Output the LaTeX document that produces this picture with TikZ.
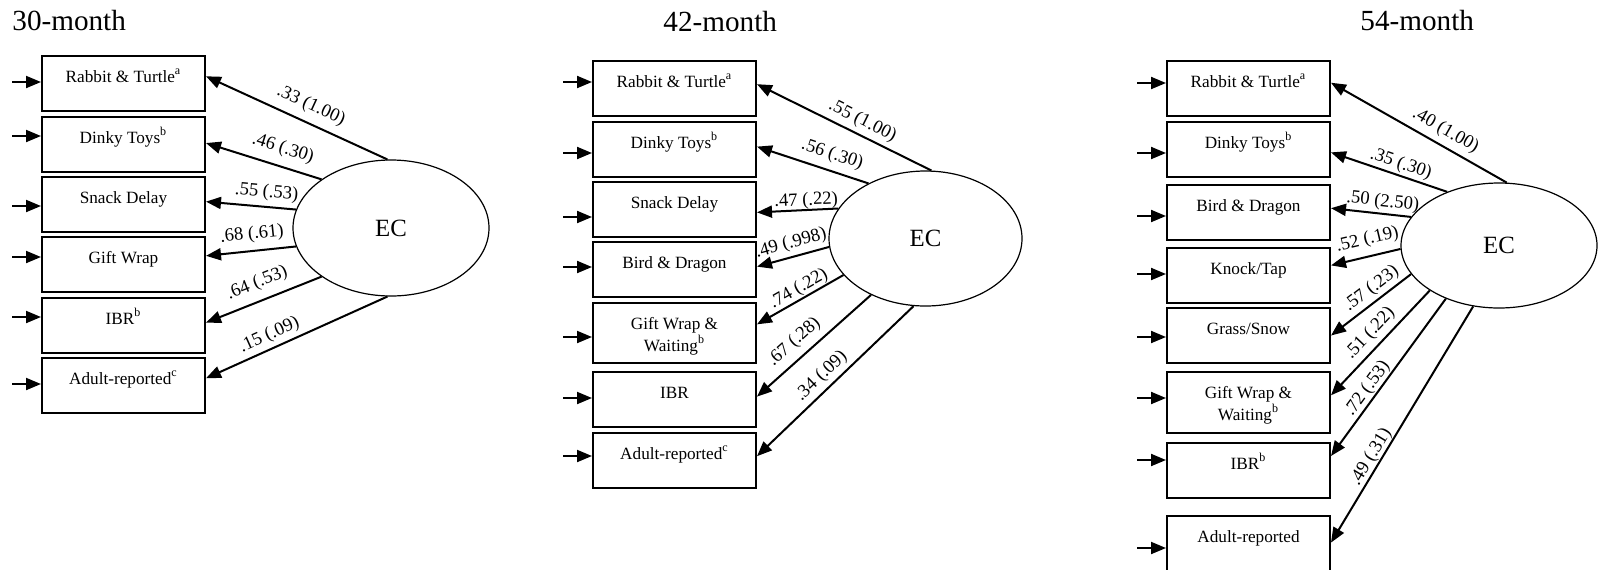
\documentclass[tikz,border=0pt]{standalone}
\usepackage{fontspec}
\setmainfont{Liberation Serif}
\usetikzlibrary{arrows.meta, shapes.geometric}

\begin{document}
\begin{tikzpicture}[
    x=0.5pt, y=-0.5pt,
    obs/.style={draw, line width=1pt, rectangle, anchor=north west,
                inner sep=0pt, minimum width=81.5pt,
                text height=13pt, text depth=#1,
                font=\fontsize{8.6}{10}\selectfont},
    obs/.default=14.5pt,
    lat/.style={draw, line width=0.6pt, ellipse, inner sep=0pt,
                font=\fontsize{12.4}{14}\selectfont},
    ttl/.style={anchor=base west, inner sep=0pt, font=\fontsize{14.6}{17}\selectfont},
    lbl/.style={font=\fontsize{9.3}{11}\selectfont, sloped, inner sep=1pt, above=#1},
    lbl/.default=1pt,
    load/.style={->, line width=1pt},
    err/.style={->, line width=1pt},
    >={Triangle[length=7.5pt, width=6pt]}
]
\useasboundingbox (0,0) rectangle (1600,569);

%% 30-month
\node[ttl] (t30) at (12,30) {30-month};
\node[obs] (rt30)  at (41,55)  {Rabbit \& Turtle\textsuperscript{a}};
\node[obs] (dt30)  at (41,116) {Dinky Toys\textsuperscript{b}};
\node[obs] (sd30)  at (41,176) {Snack Delay};
\node[obs] (gw30)  at (41,236) {Gift Wrap};
\node[obs] (ibr30) at (41,297) {IBR\textsuperscript{b}};
\node[obs] (ad30)  at (41,357) {Adult-reported\textsuperscript{c}};
\node[lat, minimum width=98pt, minimum height=68pt] (ec30) at (391,228) {EC};

\foreach \n/\dy in {rt30/-1.5, dt30/-8.5, sd30/1.5, gw30/-7.5, ibr30/-8.5, ad30/-1.5}{
    \coordinate (u\n) at ([shift={(-29,\dy)}]\n.west);
    \draw[err] (u\n) -- (u\n -| \n.west);
}

\draw[load] (ec30.93)  -- node[lbl=2.7pt, pos=.46]{.33 (1.00)} (rt30.5);
\draw[load] (ec30.145) -- node[lbl=3.1pt, pos=.38]{.46 (.30)} (dt30.1);
\draw[load] (ec30.169) -- node[lbl=1.3pt, pos=.34]{.55 (.53)} (sd30.2);
\draw[load] (ec30.191) -- node[lbl=2.6pt, pos=.47]{.68 (.61)} (gw30.6);
\draw[load] (ec30.215) -- node[lbl=3.1pt, pos=.50]{.64 (.53)} (ibr30.2);
\draw[load] (ec30.267) -- node[lbl=1pt, pos=.62]{.15 (.09)} (ad30.5);

%% 42-month
\node[ttl] (t42) at (663,31) {42-month};
\node[obs] (rt42)  at (592,60)  {Rabbit \& Turtle\textsuperscript{a}};
\node[obs] (dt42)  at (592,121) {Dinky Toys\textsuperscript{b}};
\node[obs] (sd42)  at (592,181) {Snack Delay};
\node[obs] (bd42)  at (592,241) {Bird \& Dragon};
\node[obs=17pt] (gww42) at (592,302)
    {\begin{tabular}[t]{@{}c@{}}Gift Wrap \&\\Waiting\textsuperscript{b}\end{tabular}};
\node[obs] (ibr42) at (592,371) {IBR};
\node[obs] (ad42)  at (592,432) {Adult-reported\textsuperscript{c}};
\node[lat, minimum width=96.5pt, minimum height=67.5pt] (ec42) at (925.5,238.5) {EC};

\foreach \n/\dy in {rt42/-6.5, dt42/3.5, sd42/7.5, bd42/-2.5, gww42/4, ibr42/-1.5, ad42/-4.5}{
    \coordinate (u\n) at ([shift={(-29,\dy)}]\n.west);
    \draw[err] (u\n) -- (u\n -| \n.west);
}

\draw[load] (ec42.85)  -- node[lbl=1.2pt, pos=.43]{.55 (1.00)} (rt42.3);
\draw[load] (ec42.136) -- node[lbl=2.3pt, pos=.37]{.56 (.30)} (dt42.2);
\draw[load] (ec42.161) -- node[lbl=-1.1pt, pos=.39]{.47 (.22)} (sd42.358);
\draw[load] (ec42.185) -- node[lbl=1pt, pos=.48]{.49 (.998)} (bd42.2);
\draw[load] (ec42.204) -- node[lbl=-0.8pt, pos=.46]{.74 (.22)} (gww42.6);
\draw[load] (ec42.226) -- node[lbl=2.3pt, pos=.58]{.67 (.28)} (ibr42.2);
\draw[load] (ec42.260) -- node[lbl=0.9pt, pos=.53]{.34 (.09)} (ad42.3);

%% 54-month
\node[ttl] (t54) at (1360,30) {54-month};
\node[obs] (rt54)  at (1166,60)  {Rabbit \& Turtle\textsuperscript{a}};
\node[obs] (dt54)  at (1166,121) {Dinky Toys\textsuperscript{b}};
\node[obs] (bd54)  at (1166,184) {Bird \& Dragon};
\node[obs] (kt54)  at (1166,247) {Knock/Tap};
\node[obs] (gs54)  at (1166,307) {Grass/Snow};
\node[obs=17.5pt] (gww54) at (1166,371)
    {\begin{tabular}[t]{@{}c@{}}Gift Wrap \&\\Waiting\textsuperscript{b}\end{tabular}};
\node[obs] (ibr54) at (1166,442) {IBR\textsuperscript{b}};
\node[obs=15pt] (ad54) at (1166,515) {Adult-reported};
\node[lat, minimum width=98pt, minimum height=62.5pt] (ec54) at (1499,245.5) {EC};

\foreach \n/\dy in {rt54/-5.5, dt54/3.5, bd54/3.5, kt54/-1.5, gs54/1.5, gww54/-4.5, ibr54/-10.5, ad54/4}{
    \coordinate (u\n) at ([shift={(-29,\dy)}]\n.west);
    \draw[err] (u\n) -- (u\n -| \n.west);
}

\draw[load] (ec54.83)  -- node[lbl=1.7pt, pos=.39]{.40 (1.00)} (rt54.4);
\draw[load] (ec54.134) -- node[lbl=0pt, pos=.43]{.35 (.30)} (dt54.358);
\draw[load] (ec54.162) -- node[lbl=0.2pt, pos=.37]{.50 (2.50)} (bd54.3);
\draw[load] (ec54.182) -- node[lbl=2.6pt, pos=.42]{.52 (.19)} (kt54.7);
\draw[load] (ec54.198) -- node[lbl=0.4pt, pos=.40]{.57 (.23)} (gs54.0);
\draw[load] (ec54.213) -- node[lbl=1.3pt, pos=.50]{.51 (.22)} (gww54.5);
\draw[load] (ec54.225) -- node[lbl=-0.6pt, pos=.61]{.72 (.53)} (ibr54.10);
\draw[load] (ec54.247) -- node[lbl=-0.9pt, pos=.66]{.49 (.31)} (ad54.1);
\end{tikzpicture}
\end{document}
